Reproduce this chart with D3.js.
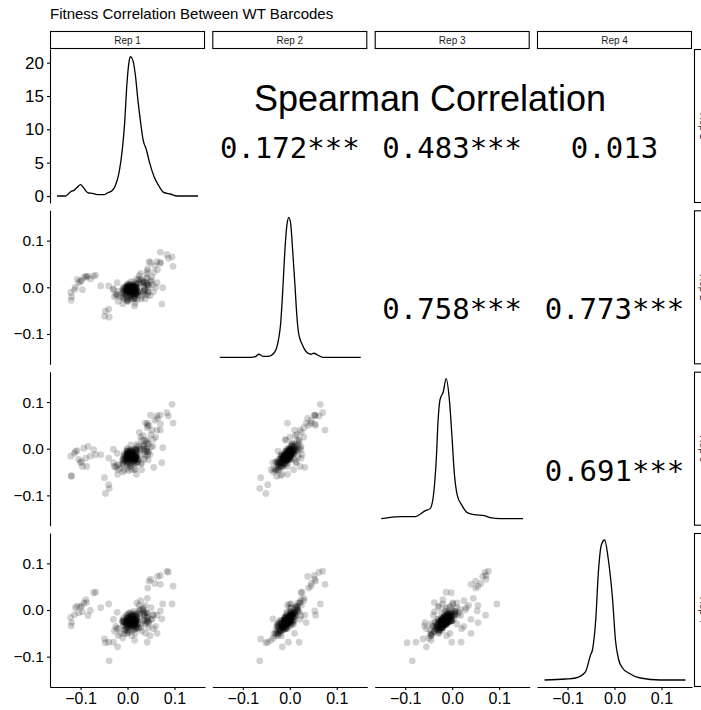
<!DOCTYPE html>
<html>
<head>
<meta charset="utf-8">
<script src="https://cdn.jsdelivr.net/npm/d3@7/dist/d3.min.js"></script>
<style>
  body { margin: 0; background: #fff; }
  text { font-family: "Liberation Sans", Arial, Helvetica, sans-serif; }
</style>
</head>
<body>
<div id="draw"></div>
<script>
// pairs plot of barcode fitness, 4 replicates
var repLabels = ['Rep 1', 'Rep 2', 'Rep 3', 'Rep 4'];
var chartTitle = 'Fitness Correlation Between WT Barcodes';
var corrTitle = 'Spearman Correlation';
// upper triangle labels, [row, col, label]
var corrLabels = [
    [0, 1, '0.172***'], [0, 2, '0.483***'], [0, 3, '0.013'],
    [1, 2, '0.758***'], [1, 3, '0.773***'],
    [2, 3, '0.691***']
];
var densTicks = [0, 5, 10, 15, 20];
var fitTicks = [-0.1, 0.0, 0.1];

// barcode fitness per replicate (main cloud, wider cloud, fringe, outliers, the -0.1 group of rep 1)
var rep1 = [
    0.014,0.005,0.007,0.001,0.004,0.013,0.002,0.017,0.007,0.013,
    -0.002,0.011,0.022,0.000,0.009,0.001,0.008,0.012,0.015,-0.008,
    0.018,0.005,0.000,0.019,0.000,0.010,0.015,-0.003,0.019,0.006,
    -0.011,0.010,0.019,0.005,0.023,0.003,-0.004,0.007,0.016,-0.003,
    0.005,0.013,0.001,0.009,0.019,-0.005,0.020,0.001,-0.001,0.018,
    0.000,0.012,0.018,-0.009,0.008,0.009,0.019,-0.002,0.012,-0.007,
    0.018,0.005,0.007,0.014,0.007,0.015,-0.004,0.008,0.015,0.001,
    0.010,0.012,0.016,0.000,0.004,0.002,0.018,0.006,0.013,0.003,
    0.007,0.016,0.001,0.010,0.000,0.014,0.000,0.017,0.001,0.009,
    0.006,0.010,0.017,-0.001,0.012,0.006,-0.008,0.012,0.011,0.005,
    0.027,-0.001,0.041,0.006,-0.001,0.036,0.030,-0.007,0.035,-0.019,
    0.040,0.015,-0.004,0.016,0.050,-0.010,0.014,0.034,0.002,0.018,
    0.034,-0.023,0.027,0.004,0.054,0.000,0.018,0.038,-0.009,0.021,
    0.007,0.043,0.009,-0.002,0.022,0.026,0.000,0.010,0.043,-0.010,
    0.045,-0.002,0.034,0.005,0.021,-0.007,0.024,0.043,0.005,0.029,
    -0.007,0.014,0.024,0.007,0.044,0.018,0.002,0.041,0.008,0.016,
    0.035,0.040,0.030,0.045,0.050,-0.025,-0.030,0.028,0.055,-0.020,
    0.038,0.025,-0.015,0.060,0.033,-0.028,0.048,0.020,0.042,-0.010,
    0.030,0.052,-0.022,0.036,0.015,
    0.095,0.084,0.097,0.087,0.070,0.064,0.049,0.058,0.043,0.046,
    0.070,0.075,0.073,0.056,0.070,0.063,0.042,0.063,0.042,0.019,
    -0.040,-0.039,-0.049,-0.040,-0.021,-0.047,-0.030,0.038,
    -0.121,-0.120,-0.119,-0.113,-0.111,-0.107,-0.104,-0.100,-0.098,-0.096,
    -0.093,-0.089,-0.087,-0.084,-0.079,-0.072,-0.068,-0.057
];
var rep2 = [
    -0.005,-0.007,-0.010,0.000,-0.012,0.003,-0.009,0.001,-0.017,-0.004,
    -0.020,0.001,-0.011,0.008,-0.007,-0.007,-0.013,0.002,-0.007,-0.007,
    0.000,-0.017,-0.016,0.006,-0.024,-0.003,-0.005,-0.010,-0.001,-0.009,
    -0.006,-0.013,0.001,0.003,-0.017,-0.001,-0.014,0.001,-0.012,-0.008,
    0.000,-0.025,0.001,-0.008,-0.002,-0.012,0.008,-0.007,-0.006,-0.013,
    -0.010,0.005,-0.011,-0.021,0.001,-0.008,-0.003,0.003,-0.014,-0.003,
    -0.013,-0.004,-0.001,-0.008,0.001,-0.019,-0.004,-0.009,0.004,-0.008,
    -0.007,0.000,-0.024,0.004,-0.011,-0.007,-0.015,-0.002,-0.004,0.006,
    -0.012,-0.007,-0.005,-0.007,0.003,-0.021,-0.008,-0.010,0.000,-0.009,
    -0.004,0.001,-0.014,-0.004,-0.015,-0.007,-0.009,-0.011,0.005,-0.007,
    0.016,-0.030,0.005,-0.017,-0.001,-0.002,0.016,-0.025,-0.007,-0.008,
    0.010,-0.024,0.001,-0.034,0.011,-0.022,0.012,-0.012,0.003,-0.016,
    0.011,-0.017,-0.009,-0.006,0.006,-0.027,0.008,-0.016,0.000,-0.026,
    0.012,-0.010,-0.025,-0.006,-0.011,0.011,-0.028,-0.004,0.005,-0.012,
    0.000,-0.001,0.003,-0.023,-0.011,-0.015,0.017,-0.016,0.007,-0.025,
    -0.001,0.001,-0.008,0.004,-0.010,0.001,-0.030,0.008,-0.020,-0.005,
    0.010,0.020,-0.020,0.005,0.015,-0.015,-0.005,0.030,-0.010,-0.030,
    -0.025,0.025,-0.020,0.000,0.012,-0.020,-0.018,0.018,0.030,-0.035,
    0.008,0.022,0.010,-0.008,-0.040,
    0.065,0.070,0.045,0.062,0.052,0.038,0.053,0.046,0.040,0.055,
    0.075,-0.001,-0.036,0.032,0.053,0.055,0.035,0.010,0.020,-0.005,
    -0.047,-0.064,-0.062,0.003,-0.016,-0.051,-0.003,-0.005,
    -0.011,-0.028,-0.020,-0.005,0.000,0.017,0.010,0.013,0.014,-0.005,
    0.021,0.024,0.022,0.024,0.018,0.024,0.026,0.003
];
var rep3 = [
    -0.021,-0.008,-0.023,-0.001,-0.033,-0.002,-0.018,-0.017,-0.018,-0.017,
    -0.022,-0.013,-0.018,-0.010,-0.018,-0.013,-0.031,-0.001,-0.022,-0.017,
    -0.002,-0.032,-0.021,-0.008,-0.034,-0.007,-0.023,-0.018,-0.002,-0.024,
    -0.024,-0.016,-0.009,-0.005,-0.022,-0.019,-0.023,-0.016,-0.015,-0.012,
    -0.018,-0.032,-0.012,-0.011,-0.015,-0.027,0.005,-0.025,-0.012,-0.019,
    -0.020,-0.008,-0.014,-0.032,-0.016,-0.012,-0.017,-0.012,-0.021,-0.014,
    -0.016,-0.020,-0.005,-0.026,-0.010,-0.022,-0.018,-0.020,-0.011,-0.018,
    -0.009,-0.014,-0.030,-0.005,-0.026,-0.013,-0.020,-0.014,-0.018,-0.007,
    -0.021,-0.019,-0.005,-0.019,-0.010,-0.027,-0.021,-0.022,-0.008,-0.019,
    -0.013,-0.009,-0.021,-0.017,-0.027,-0.014,-0.021,-0.021,-0.006,-0.011,
    -0.001,-0.029,-0.001,-0.037,0.000,-0.022,0.017,-0.046,-0.001,-0.034,
    0.000,-0.023,-0.022,-0.043,0.004,-0.030,-0.005,-0.012,-0.012,-0.030,
    0.009,-0.036,-0.005,-0.022,0.005,-0.042,-0.003,-0.016,-0.023,-0.028,
    -0.003,-0.007,-0.045,-0.005,-0.030,-0.002,-0.028,-0.021,0.012,-0.035,
    -0.007,-0.025,0.006,-0.038,-0.023,-0.027,0.005,-0.014,-0.014,-0.033,
    -0.010,-0.013,-0.025,0.008,-0.024,-0.001,-0.047,-0.005,-0.015,-0.025,
    0.005,0.015,-0.030,0.010,0.030,-0.040,-0.030,0.025,0.020,-0.045,
    -0.005,0.035,-0.042,0.025,0.028,-0.038,-0.012,0.010,0.045,-0.050,
    -0.045,0.040,-0.010,0.018,-0.045,
    0.095,0.077,0.055,0.070,0.072,0.065,0.072,0.061,0.050,0.050,
    0.040,0.002,-0.030,-0.040,0.053,0.071,0.055,0.040,0.019,-0.055,
    -0.077,-0.085,-0.062,-0.020,-0.055,-0.096,-0.001,0.055,
    -0.016,-0.059,-0.058,-0.010,-0.006,-0.004,-0.023,-0.030,-0.028,-0.038,
    0.001,-0.020,-0.038,0.005,-0.016,-0.002,-0.013,-0.013
];
var rep4 = [
    -0.020,-0.025,-0.022,-0.023,-0.032,-0.013,-0.031,-0.012,-0.032,-0.021,
    -0.044,-0.014,-0.025,-0.015,-0.024,-0.025,-0.041,-0.012,-0.028,-0.016,
    -0.023,-0.033,-0.038,-0.009,-0.038,-0.025,-0.021,-0.028,-0.021,-0.024,
    -0.022,-0.034,-0.019,-0.009,-0.038,-0.015,-0.037,-0.016,-0.022,-0.031,
    -0.016,-0.042,-0.022,-0.023,-0.013,-0.042,-0.007,-0.024,-0.027,-0.026,
    -0.026,-0.015,-0.032,-0.034,-0.019,-0.029,-0.021,-0.011,-0.034,-0.025,
    -0.022,-0.032,-0.012,-0.027,-0.020,-0.029,-0.027,-0.031,-0.009,-0.030,
    -0.020,-0.021,-0.030,-0.023,-0.028,-0.018,-0.038,-0.019,-0.028,-0.006,
    -0.026,-0.033,-0.019,-0.029,-0.010,-0.043,-0.022,-0.025,-0.024,-0.023,
    -0.029,-0.009,-0.037,-0.017,-0.036,-0.030,-0.021,-0.025,-0.013,-0.029,
    0.000,-0.050,-0.023,-0.026,-0.023,-0.022,0.002,-0.051,-0.007,-0.039,
    -0.006,-0.032,-0.032,-0.051,-0.020,-0.025,-0.013,-0.023,-0.028,-0.036,
    0.005,-0.040,-0.015,-0.036,-0.010,-0.035,-0.024,-0.028,-0.024,-0.029,
    -0.013,-0.016,-0.055,-0.017,-0.031,-0.008,-0.049,-0.019,-0.009,-0.026,
    -0.025,-0.024,-0.003,-0.046,-0.017,-0.043,-0.002,-0.022,-0.026,-0.037,
    -0.027,-0.003,-0.039,-0.005,-0.038,-0.014,-0.044,-0.016,-0.022,-0.028,
    -0.010,-0.005,-0.045,-0.030,0.005,-0.035,-0.020,0.020,-0.040,-0.055,
    -0.050,0.010,-0.050,-0.035,0.000,-0.045,-0.055,0.015,0.025,-0.060,
    -0.030,-0.020,-0.005,-0.012,-0.065,
    0.013,0.083,0.051,0.081,0.074,0.072,0.066,0.057,0.047,0.062,
    0.055,0.013,-0.019,-0.011,-0.002,-0.011,-0.027,-0.050,-0.069,-0.040,
    -0.069,-0.109,-0.062,0.013,-0.079,-0.070,-0.069,0.010,
    -0.016,-0.034,-0.027,-0.010,0.005,0.008,-0.006,0.006,0.009,-0.004,
    0.015,0.022,0.016,-0.012,-0.001,0.037,0.038,0.005
];
var reps = [rep1, rep2, rep3, rep4];

// density curves read from the diagonal, [fitness, density]
var densRep1 = [[-0.150,0],[-0.132,0],[-0.126,0.3],[-0.121,0.65],[-0.114,0.85],[-0.107,1.3],[-0.100,1.7],
    [-0.094,1.3],[-0.088,0.7],[-0.083,0.45],[-0.075,0.4],[-0.064,0.2],[-0.050,0.2],[-0.043,0.45],[-0.033,0.8],
    [-0.026,1.55],[-0.018,3.5],[-0.011,7.0],[-0.006,11],[-0.002,16],[0.003,20],[0.006,20.9],[0.012,20.2],
    [0.017,18],[0.022,14.5],[0.028,11],[0.033,8.5],[0.040,7.0],[0.047,5.0],[0.056,3.0],[0.067,1.5],
    [0.077,0.55],[0.091,0.3],[0.106,0],[0.150,0]];
var densRep2 = [[-0.149,0],[-0.083,0],[-0.072,0.2],[-0.066,0.6],[-0.057,0.2],[-0.045,0.2],[-0.034,0.8],
    [-0.026,2.6],[-0.019,7.2],[-0.015,13.2],[-0.011,20.2],[-0.006,26.2],[-0.002,27.6],[0.002,26.2],
    [0.006,21.2],[0.011,14.2],[0.015,8.2],[0.019,4.6],[0.026,2.6],[0.034,1.2],[0.045,0.6],[0.051,0.8],
    [0.060,0.4],[0.070,0],[0.151,0]];
var densRep3 = [[-0.151,0],[-0.111,0.4],[-0.079,0.4],[-0.057,1.6],[-0.047,2.0],[-0.040,4.6],[-0.034,11.6],
    [-0.030,19.6],[-0.026,23.6],[-0.019,25.2],[-0.013,27.8],[-0.006,23.6],[0.000,15.6],[0.004,9.6],
    [0.011,4.6],[0.021,2.6],[0.032,1.2],[0.047,0.8],[0.068,0.6],[0.081,0.2],[0.102,0],[0.151,0]];
var densRep4 = [[-0.149,0],[-0.104,0.2],[-0.083,0.4],[-0.062,1.6],[-0.051,5.0],[-0.047,6.0],[-0.040,12],
    [-0.034,22],[-0.028,27],[-0.021,28],[-0.013,24],[-0.004,16],[0.002,8],[0.009,4],[0.017,2.4],
    [0.030,1.4],[0.055,0.4],[0.098,0],[0.151,0]];
var densAll = [densRep1, densRep2, densRep3, densRep4];

window.onload = function() {
    var svg = d3.select('#draw').append('svg')
        .attr('width', 701).attr('height', 710);

    var colLeft = [50, 212.3, 374.7, 537];
    var rowTop = [49, 210.3, 371.7, 533];
    var pw = 155, ph = 154;
    var fitDomain = [-0.165, 0.165];
    var fmt = d3.format('.1f');

    var xs = colLeft.map(function(l) {
        return d3.scaleLinear().domain(fitDomain).range([l, l + pw]);
    });
    var ys = rowTop.map(function(t) {
        return d3.scaleLinear().domain(fitDomain).range([t + ph, t]);
    });

    // title
    svg.append('text').attr('x', 50).attr('y', 19)
        .style('font-size', '15px').attr('fill', '#000').text(chartTitle);

    // top strips
    repLabels.forEach(function(lab, j) {
        svg.append('rect').attr('x', colLeft[j] + 0.5).attr('y', 31.5)
            .attr('width', pw - 1).attr('height', 17)
            .attr('fill', '#fff').attr('stroke', '#000').attr('stroke-width', 1.1);
        svg.append('text').attr('x', colLeft[j] + pw / 2).attr('y', 40)
            .attr('text-anchor', 'middle').attr('dominant-baseline', 'central')
            .style('font-size', '10px').attr('fill', '#1a1a1a').text(lab);
    });
    // right strips (cut by the page edge)
    repLabels.forEach(function(lab, i) {
        svg.append('rect').attr('x', 694.5).attr('y', rowTop[i] + 0.5)
            .attr('width', 17).attr('height', ph - 1)
            .attr('fill', '#fff').attr('stroke', '#000').attr('stroke-width', 1.1);
        svg.append('text').attr('transform', 'translate(703,' + (rowTop[i] + ph / 2) + ') rotate(90)')
            .attr('text-anchor', 'middle').attr('dominant-baseline', 'central')
            .style('font-size', '10px').attr('fill', '#1a1a1a').text(lab);
    });

    // scatter panels below the diagonal
    for (var i = 1; i < 4; i++) {
        for (var j = 0; j < i; j++) {
            var g = svg.append('g');
            g.selectAll('circle').data(d3.range(rep1.length)).enter().append('circle')
                .attr('cx', function(k) { return xs[j](reps[j][k]); })
                .attr('cy', function(k) { return ys[i](reps[i][k]); })
                .attr('r', 3.4)
                .attr('fill', '#000').attr('fill-opacity', 0.18);
        }
    }

    // density on the diagonal
    densAll.forEach(function(dens, d) {
        var yd;
        if (d === 0) {
            yd = d3.scaleLinear().domain([-1.05, 22.05]).range([rowTop[0] + ph, rowTop[0]]);
        } else {
            var mx = d3.max(dens, function(p) { return p[1]; });
            yd = d3.scaleLinear().domain([-0.05 * mx, 1.05 * mx]).range([rowTop[d] + ph, rowTop[d]]);
        }
        var line = d3.line()
            .x(function(p) { return xs[d](p[0]); })
            .y(function(p) { return yd(p[1]); })
            .curve(d3.curveMonotoneX);
        svg.append('path').attr('d', line(dens))
            .attr('fill', 'none').attr('stroke', '#000').attr('stroke-width', 1.3);
        if (d === 0) {
            var ax = svg.append('g').attr('transform', 'translate(' + colLeft[0] + ',0)')
                .call(d3.axisLeft(yd).tickValues(densTicks).tickSize(3).tickSizeOuter(0).tickPadding(3));
            styleAxis(ax, 17);
        }
    });

    // left axes rows 2-4
    for (var r = 1; r < 4; r++) {
        var ay = svg.append('g').attr('transform', 'translate(' + colLeft[0] + ',0)')
            .call(d3.axisLeft(ys[r]).tickValues(fitTicks).tickFormat(fmt)
                .tickSize(3).tickSizeOuter(0).tickPadding(3));
        styleAxis(ay, 15.5);
    }
    // bottom axes
    for (var c = 0; c < 4; c++) {
        var axb = svg.append('g').attr('transform', 'translate(0,' + (rowTop[3] + ph) + ')')
            .call(d3.axisBottom(xs[c]).tickValues(fitTicks).tickFormat(fmt)
                .tickSize(3).tickSizeOuter(0).tickPadding(3));
        styleAxis(axb, 16);
    }

    function styleAxis(a, fs) {
        a.select('.domain').attr('stroke', '#000').attr('stroke-width', 1.1);
        a.selectAll('.tick line').attr('stroke', '#000').attr('stroke-width', 1.1);
        a.selectAll('.tick text').attr('fill', '#000')
            .style('font-size', fs + 'px').style('font-family', '"Liberation Sans", Arial, sans-serif');
    }

    // correlation texts
    svg.append('text').attr('x', 430).attr('y', 111)
        .attr('text-anchor', 'middle').style('font-size', '36px').attr('fill', '#000')
        .text(corrTitle);
    corrLabels.forEach(function(c) {
        svg.append('text')
            .attr('x', colLeft[c[1]] + pw / 2)
            .attr('y', rowTop[c[0]] + ph / 2 + 32)
            .attr('text-anchor', 'middle')
            .style('font-family', '"DejaVu Sans Mono", monospace')
            .style('font-size', '29px').attr('fill', '#000')
            .text(c[2]);
    });
};
</script>
</body>
</html>
